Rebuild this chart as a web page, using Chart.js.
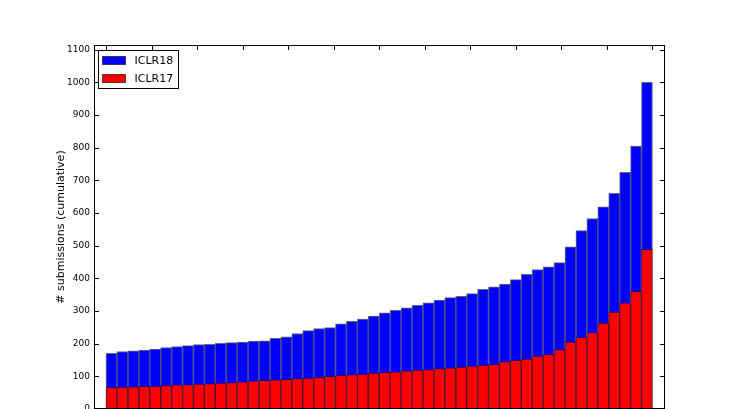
<!DOCTYPE html>
<html>
<head>
<meta charset="utf-8">
<script src="https://cdn.jsdelivr.net/npm/chart.js@4"></script>
<style>
  body { margin: 0; background: #fff; }
</style>
</head>
<body>
<canvas id="chart" width="740" height="409"></canvas>
<script>
// cumulative submissions per bin
const iclr18 = [170, 176, 178, 180, 183, 188, 191, 194, 197, 198,
                201, 203, 205, 208, 209, 216, 221, 231, 240, 246,
                249, 261, 268, 275, 284, 294, 302, 310, 317, 325,
                333, 341, 345, 353, 366, 374, 382, 396, 412, 427,
                435, 448, 496, 546, 583, 619, 660, 724, 805, 1000];
const iclr17 = [66, 67, 68, 69, 70, 72, 74, 75, 76, 78,
                79, 81, 83, 86, 88, 89, 91, 93, 95, 97,
                100, 103, 105, 107, 110, 112, 114, 117, 119, 121,
                124, 126, 128, 131, 134, 137, 145, 149, 153, 162,
                167, 182, 205, 219, 234, 263, 297, 325, 360, 489];
const seriesNames = ["ICLR18", "ICLR17"];
const xTicks = [0, 4.17, 8.33, 12.5, 16.67, 20.83, 25, 29.17, 33.33, 37.5, 41.67, 45.83, 50];
const yTicks = [0, 100, 200, 300, 400, 500, 600, 700, 800, 900, 1000, 1100];

const font = "'DejaVu Sans', sans-serif";

// bars sit on integer bins, left edge at i
function toPoints(values) {
    return values.map((v, i) => ({ x: i + 0.5, y: v }));
}

// matplotlib-like frame: box, inward ticks and legend inside the axes
const framePlugin = {
    id: 'frame',
    afterDatasetsDraw(chart) {
        const ctx = chart.ctx;
        const a = chart.chartArea;
        const sx = chart.scales.x;
        const sy = chart.scales.y;
        ctx.save();
        ctx.strokeStyle = '#000';
        ctx.lineWidth = 1;
        ctx.beginPath();
        sy.ticks.forEach(t => {
            if (t.value === 0) return;
            const y = Math.round(sy.getPixelForValue(t.value)) + 0.5;
            ctx.moveTo(a.left, y); ctx.lineTo(a.left + 5, y);
            ctx.moveTo(a.right, y); ctx.lineTo(a.right - 5, y);
        });
        sx.ticks.forEach(t => {
            const x = Math.round(sx.getPixelForValue(t.value)) + 0.5;
            ctx.moveTo(x, a.top); ctx.lineTo(x, a.top + 5);
        });
        ctx.stroke();
        ctx.strokeRect(a.left + 0.5, a.top + 0.5, a.right - a.left - 1, a.bottom - a.top - 1);

        // legend
        const lx = a.left + 4.5, ly = a.top + 5.5;
        ctx.fillStyle = '#fff';
        ctx.fillRect(lx, ly, 80, 38);
        ctx.strokeRect(lx, ly, 80, 38);
        ctx.font = '11px ' + font;
        ctx.textBaseline = 'middle';
        seriesNames.forEach((name, i) => {
            const ds = chart.data.datasets.find(d => d.label === name);
            const cy = ly + 10 + i * 18;
            ctx.fillStyle = ds.backgroundColor;
            ctx.fillRect(lx + 4, cy - 4, 23, 8);
            ctx.strokeStyle = 'rgba(0,0,0,0.6)';
            ctx.strokeRect(lx + 4, cy - 4, 23, 8);
            ctx.fillStyle = '#000';
            ctx.fillText(name, lx + 36, cy + 0.5);
        });
        ctx.restore();
    }
};

new Chart(document.getElementById('chart').getContext('2d'), {
    type: 'bar',
    data: {
        datasets: [{
            label: seriesNames[0],
            data: toPoints(iclr18),
            backgroundColor: '#0000ff',
            borderColor: 'rgba(0,0,40,0.6)',
            borderWidth: 1,
            order: 2
        }, {
            label: seriesNames[1],
            data: toPoints(iclr17),
            backgroundColor: '#ff0000',
            borderColor: 'rgba(60,0,0,0.6)',
            borderWidth: 1,
            order: 1
        }]
    },
    options: {
        responsive: false,
        animation: false,
        devicePixelRatio: 1,
        layout: { padding: { left: 55, right: 75, top: 45, bottom: 0 } },
        datasets: {
            bar: { grouped: false, barPercentage: 1, categoryPercentage: 1 }
        },
        plugins: {
            legend: { display: false },
            tooltip: { enabled: false }
        },
        scales: {
            x: {
                type: 'linear',
                offset: false,
                min: -1.1,
                max: 51.15,
                grid: { display: false, drawTicks: false },
                border: { display: false },
                ticks: { display: false },
                afterBuildTicks: s => { s.ticks = xTicks.map(v => ({ value: v })); },
                afterFit: s => { s.height = 0; }
            },
            y: {
                min: 0,
                max: 1114,
                grid: { display: false, drawTicks: false },
                border: { display: false },
                ticks: {
                    padding: 4,
                    color: '#000',
                    font: { family: font, size: 9 },
                    callback: v => String(v)
                },
                afterBuildTicks: s => { s.ticks = yTicks.map(v => ({ value: v })); },
                title: {
                    display: true,
                    text: '# submissions (cumulative)',
                    color: '#000',
                    padding: 0,
                    font: { family: font, size: 11 }
                },
                afterFit: s => {
                    s.width = 39;
                    s.paddingTop = 0;
                    s.paddingBottom = 0;
                }
            }
        }
    },
    plugins: [framePlugin]
});
</script>
</body>
</html>
